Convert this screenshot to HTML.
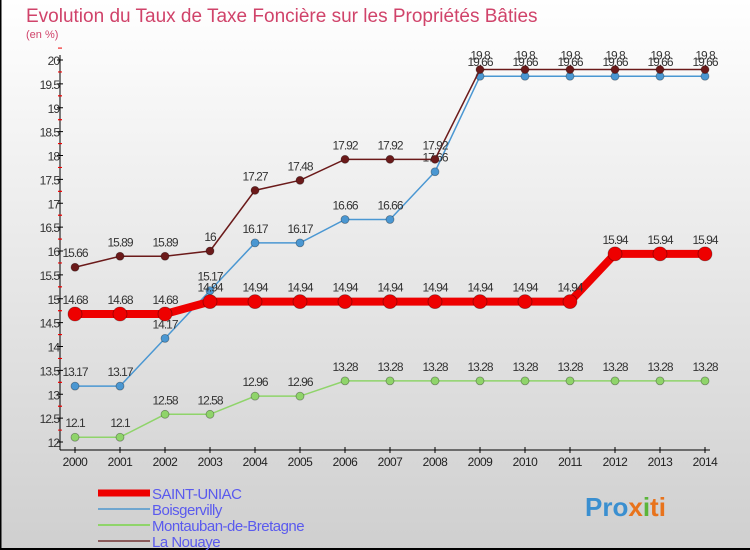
<!DOCTYPE html>
<html><head><meta charset="utf-8"><style>
body{margin:0;width:750px;height:550px;overflow:hidden;font-family:"Liberation Sans",sans-serif}
svg{display:block}
</style></head><body>
<svg width="750" height="550" id="chart">
<defs><linearGradient id="bg" x1="0" y1="0" x2="0" y2="1"><stop offset="0" stop-color="#ffffff"/><stop offset="1" stop-color="#cfcfcf"/></linearGradient></defs>
<rect x="0" y="0" width="750" height="550" fill="url(#bg)"/>
<rect x="0" y="0" width="1.5" height="550" fill="#000"/>
<rect x="0" y="548" width="750" height="2" fill="#000"/>
<text x="26" y="22" font-size="19" fill="#d0436a">Evolution du Taux de Taxe Foncière sur les Propriétés Bâties</text>
<text x="26" y="38" font-size="11" fill="#d0436a">(en %)</text>
<g id="axes"></g>
<g id="series"></g>
<g id="legend"></g>
<text x="585" y="516" font-size="26" font-weight="bold" fill="#3a8fd0">Pro<tspan fill="#e8731c">x</tspan><tspan fill="#5bb53a">i</tspan><tspan fill="#e8731c">ti</tspan></text>
</svg>
<script>
const years=[2000,2001,2002,2003,2004,2005,2006,2007,2008,2009,2010,2011,2012,2013,2014];
const yTicks=[12,12.5,13,13.5,14,14.5,15,15.5,16,16.5,17,17.5,18,18.5,19,19.5,20];
const saintUniac=[14.68,14.68,14.68,14.94,14.94,14.94,14.94,14.94,14.94,14.94,14.94,14.94,15.94,15.94,15.94];
const boisgervilly=[13.17,13.17,14.17,15.17,16.17,16.17,16.66,16.66,17.66,19.66,19.66,19.66,19.66,19.66,19.66];
const montauban=[12.1,12.1,12.58,12.58,12.96,12.96,13.28,13.28,13.28,13.28,13.28,13.28,13.28,13.28,13.28];
const laNouaye=[15.66,15.89,15.89,16,17.27,17.48,17.92,17.92,17.92,19.8,19.8,19.8,19.8,19.8,19.8];
const NS="http://www.w3.org/2000/svg";
const xS=i=>75+i*45;
const yS=v=>442-(v-12)*47.75;
function mk(tag,attrs,parent,text){const e=document.createElementNS(NS,tag);for(const k in attrs)e.setAttribute(k,attrs[k]);if(text!==undefined)e.textContent=text;parent.appendChild(e);return e;}
const axes=document.getElementById('axes');
let e=mk('line',{x1:60,y1:yS(20)-5,x2:60,y2:450,stroke:'#000','stroke-width':1},axes);


e=mk('line',{x1:60,y1:450,x2:710,y2:450,stroke:'#000','stroke-width':1},axes);


yTicks.forEach(t=>{const y=yS(t);
 e=mk('line',{x1:57,y1:y,x2:63,y2:y,stroke:'#000'},axes);
 
 
 e=mk('text',{x:59,y:y+5,'font-size':12,fill:'#333','text-anchor':'end','letter-spacing':'-1'},axes,String(t));
 
 
 if(t<20){e=mk('line',{x1:58,y1:y-11.9,x2:62,y2:y-11.9,stroke:'#e00'},axes);
 
 
 e=mk('line',{x1:58,y1:y-35.8,x2:62,y2:y-35.8,stroke:'#e00'},axes);
 
 }
});
years.forEach((yr,i)=>{const x=xS(i);
 e=mk('line',{x1:x,y1:447,x2:x,y2:453,stroke:'#000'},axes);
 
 
 e=mk('text',{x:x,y:466,'font-size':12,fill:'#222','text-anchor':'middle','letter-spacing':'-0.5'},axes,String(yr));
 
 
});
const sg=document.getElementById('series');
function draw(vals,color,w,r,name){
 const g=mk('g',{},sg);
 
 
 e=mk('polyline',{points:vals.map((v,i)=>xS(i)+','+yS(v)).join(' '),fill:'none',stroke:color,'stroke-width':w},g);
 
 
 vals.forEach((v,i)=>{
  e=mk('circle',{cx:xS(i),cy:yS(v),r:r,fill:color,stroke:'rgba(0,0,0,0.35)','stroke-width':0.8},g);
  
  
  e=mk('text',{x:xS(i),y:yS(v)-10,'font-size':12,fill:'#333','text-anchor':'middle','letter-spacing':'-1'},g,String(v));
  
  
 });
}
draw(montauban,'#8fd46a',1.5,4,'montauban');
draw(boisgervilly,'#4a97d2',1.5,4,'boisgervilly');
draw(laNouaye,'#6b1a1a',1.5,4,'la-nouaye');
draw(saintUniac,'#ee0000',8,7,'saint-uniac');
const lg=document.getElementById('legend');
[['SAINT-UNIAC','#ee0000',7],['Boisgervilly','#6fa6cf',2],['Montauban-de-Bretagne','#8fd46a',2],['La Nouaye','#8a5a5a',2]].forEach((d,i)=>{
 const y=493+i*16;
 e=mk('line',{x1:98,y1:y,x2:150,y2:y,stroke:d[1],'stroke-width':d[2]},lg);
 
 
 e=mk('text',{x:152,y:y+6,'font-size':15,fill:'#5a5aee','letter-spacing':'-0.5'},lg,d[0]);
 
 
});
</script>
</body></html>
